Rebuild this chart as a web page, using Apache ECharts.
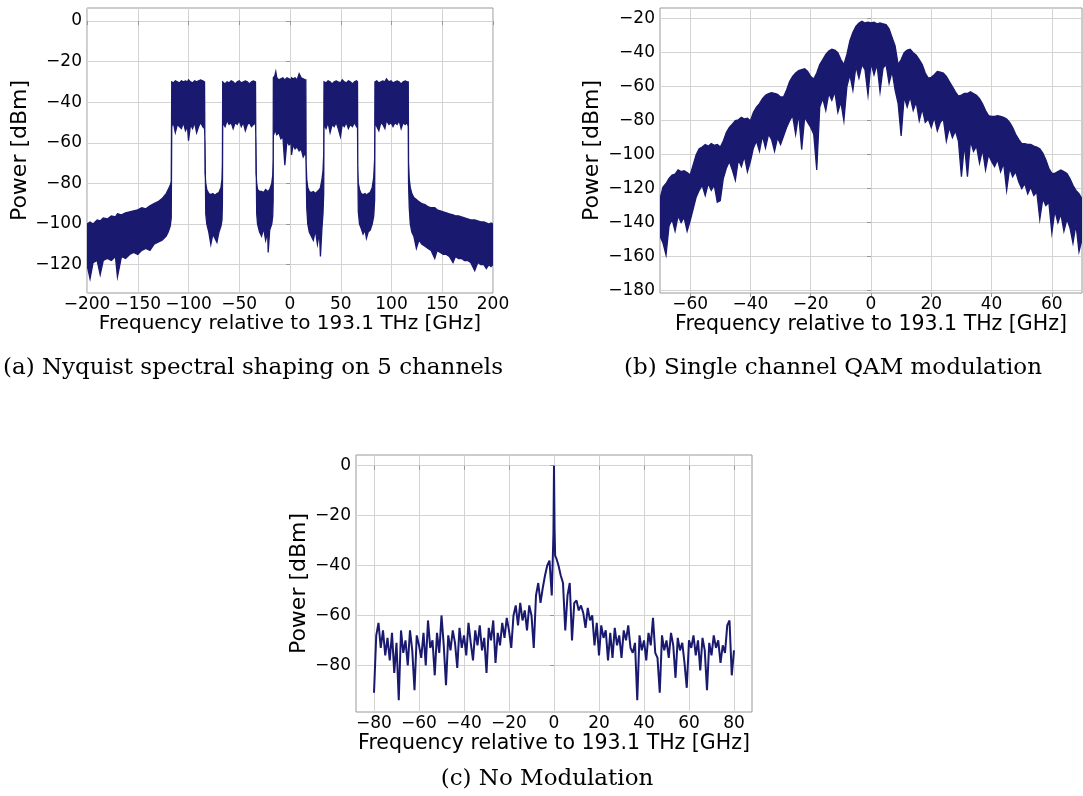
<!DOCTYPE html>
<html>
<head>
<meta charset="utf-8">
<title>Optical spectra</title>
<script src="https://cdn.jsdelivr.net/npm/echarts@6/dist/echarts.min.js"></script>
<style>
  html, body { margin: 0; padding: 0; background: #fff; }
  #chart { width: 1083px; height: 796px; }
</style>
</head>
<body>
<div id="chart"></div>
<script>
// (a) Nyquist shaped, 5 channels: noise band read as upper / lower envelope
const aFreq = [
  -200, -197, -194, -190, -187, -184, -180, -176, -172, -170, -166, -162, -158, -154, -150, -146, -142, -138, -134, -130, -126, -122, -120, -118, -117,
  -116.5, -115, -113, -111, -109, -107, -105, -103, -101, -100, -98, -96, -94, -92, -90, -88, -86, -84.2,
  -83.7, -83, -82, -80, -78, -76, -74, -72, -70, -68, -67, -66.6,
  -66.3, -64, -62, -60, -58, -56, -54, -52, -50, -48, -46, -44, -42, -40, -38, -36, -34,
  -33.5, -32.8, -32, -30, -28, -26, -24, -22, -21.5, -20, -18, -17, -16.6,
  -16.4, -15, -14, -13, -11, -9, -7, -5.1, -3, -1, 1, 1.5, 3, 5, 7, 9, 11, 13, 15, 15.6,
  15.9, 16.5, 17.5, 19, 21, 23, 25, 27, 29, 30, 31.5, 32.5, 33.2,
  33.5, 35.5, 37.5, 39.5, 41.5, 43.5, 45.5, 47.5, 49.7, 51.5, 53.5, 55.5, 57.5, 59.5, 61.5, 63.5, 65.5, 66.5,
  66.8, 67.3, 68.5, 70, 72, 74, 75.3, 77, 79, 81, 82.5, 83.4,
  83.7, 85.5, 87.5, 89.5, 91.5, 93.5, 95, 97.5, 99.5, 101.5, 103.5, 105.5, 107.5, 109.5, 111.5, 113.5, 115.5, 116.5,
  116.8, 117.5, 118.5, 120, 122, 124.5, 127, 130, 133, 136, 139, 142.6, 145, 148, 151, 154, 157, 160.6, 163, 166, 169, 172, 175, 178, 182, 185, 188, 191, 193.4, 196, 198, 200
];
const aUpper = [
  -100, -99, -100, -98, -98.5, -97, -97.5, -96, -96.5, -95, -95.5, -94.5, -94, -93.5, -93, -92, -92.5, -91, -90, -89, -87.5, -85, -83, -81, -79,
  -30, -30.5, -29.5, -30, -30.5, -29.5, -30, -29.5, -30, -29, -30, -30.5, -29.5, -30, -29.5, -29, -29.5, -30,
  -75, -80, -83, -85, -85.5, -85, -86, -85, -84.5, -82, -78, -70,
  -30, -31, -30, -30.5, -29.5, -30, -31, -30, -29.5, -30.5, -30, -29.5, -30, -31, -30, -29.5, -30,
  -75, -80, -83, -84, -84, -84.5, -83, -84, -84, -83, -80, -76, -68,
  -28, -27, -25, -28, -29, -28.5, -28, -29, -28, -28.5, -29, -28, -28.5, -28, -29, -26, -28, -28.5, -29, -29,
  -70, -78, -82, -84, -84.5, -84, -85, -84, -83, -82, -78, -74, -66,
  -30, -30.5, -29.5, -30, -31, -30, -29.5, -30, -30.5, -29, -30, -30.5, -29.5, -30, -31, -30, -29.5, -30,
  -72, -80, -83, -85, -85.5, -85, -86, -85, -84.5, -82, -77, -68,
  -30, -29.5, -30.5, -30, -29.5, -30, -28.5, -30, -29.5, -30.5, -30, -29.5, -30, -31, -30, -29.5, -30, -30,
  -70, -78, -82, -85, -87, -88, -89, -90, -90.5, -91.5, -92, -92, -93, -93.5, -94, -94.5, -95, -95.5, -96, -96, -96.5, -97, -97.5, -98, -98, -98.5, -99, -99, -99.5, -100, -99.5, -100
];
const aLower = [
  -120, -127, -119, -118, -125, -118, -117, -118, -116, -126, -116, -117, -115, -114, -115, -113, -112, -113, -110, -109, -108, -106, -104, -101, -97,
  -52, -50, -55, -51, -52, -53, -50, -54, -52, -59, -51, -53, -50, -55, -52, -50, -52, -53,
  -60, -95, -100, -104, -110, -105, -107, -109, -104, -101, -98, -90,
  -50, -52, -49, -51, -50, -53, -50, -51, -49, -52, -50, -54, -51, -50, -52, -51, -50,
  -60, -95, -100, -104, -106, -102, -108, -104, -114, -103, -100, -96, -88,
  -52, -55, -53, -56, -55, -58, -57, -71, -59, -61, -60, -66, -61, -63, -62, -64, -63, -67, -65, -66,
  -72, -92, -100, -104, -106, -108, -103, -110, -104, -116, -102, -95, -85,
  -51, -53, -50, -55, -51, -52, -50, -53, -57, -51, -52, -50, -53, -51, -52, -50, -52, -51,
  -72, -94, -100, -102, -105, -103, -107, -104, -103, -100, -96, -88,
  -50, -52, -54, -50, -51, -53, -49, -51, -50, -52, -50, -51, -49, -53, -50, -51, -50, -52,
  -80, -92, -100, -104, -106, -112, -108, -110, -111, -112, -113, -117, -113, -114, -115, -115, -116, -119, -116, -117, -117, -118, -118, -119, -123, -119, -120, -120, -122, -120, -121, -120
];

// (b) single channel QAM: upper and lower envelopes read at 1 GHz steps
const bFreq = [
  -70, -69, -68, -67, -66, -65, -64, -63, -62, -61, -60, -59, -58, -57, -56, -55, -54, -53, -52, -51,
  -50, -49, -48, -47, -46, -45, -44, -43, -42, -41, -40, -39, -38, -37, -36, -35, -34, -33, -32, -31,
  -30, -29, -28, -27, -26, -25, -24, -23, -22, -21, -20, -19, -18, -17, -16, -15, -14, -13, -12, -11,
  -10, -9, -8, -7, -6, -5, -4, -3, -2, -1, 0, 1, 2, 3, 4, 5, 6, 7, 8, 9,
  10, 11, 12, 13, 14, 15, 16, 17, 18, 19, 20, 21, 22, 23, 24, 25, 26, 27, 28, 29,
  30, 31, 32, 33, 34, 35, 36, 37, 38, 39, 40, 41, 42, 43, 44, 45, 46, 47, 48, 49,
  50, 51, 52, 53, 54, 55, 56, 57, 58, 59, 60, 61, 62, 63, 64, 65, 66, 67, 68, 69, 70
];
const bUpper = [
  -126, -119, -117, -114, -112, -111.5, -109, -110, -109.5, -110.5, -112, -106, -100, -96.5, -95.5, -94, -95, -93.5, -94.5, -94,
  -95.5, -92, -87, -84, -82, -80, -79.5, -78, -79, -78.5, -80, -75, -72, -70, -67, -65, -64, -63.5, -64, -64.5,
  -66, -66, -62, -57, -54, -52, -50.5, -50, -49.5, -51, -54, -55.5, -52, -47, -44, -41, -39, -38, -38.5, -40,
  -44, -47, -41, -33, -28, -24.5, -22.5, -21.5, -22.5, -22, -22.5, -22, -23, -22.5, -23, -23.5, -26, -31, -36, -47,
  -44, -40, -38.5, -38, -40, -41.5, -44, -47, -52, -55, -54.5, -53, -51, -51.5, -52, -54, -57, -60, -63, -65.5,
  -65, -64, -64, -63, -64, -65, -67, -70, -74, -77, -77.5, -77.5, -77, -77.5, -78, -79, -81, -84, -88, -91,
  -93.5, -93.5, -94, -94, -95, -95.5, -96.5, -99, -103, -108, -111, -111, -110, -109, -110, -111, -114, -118, -121, -123, -126
];
const bLower = [
  -148, -152, -159, -142, -138, -145, -136, -140, -137, -145, -139, -132, -125, -121, -118, -124, -117, -121, -118, -128,
  -127, -114, -108, -104, -109, -115, -103, -107, -101, -110, -104, -96, -92, -98, -89, -96, -88, -91, -98, -90,
  -94, -89, -84, -80, -77, -88, -76, -97, -78, -81, -84, -88, -109, -72, -67, -74, -64, -68, -63, -75,
  -69, -80, -60, -53, -62, -48, -55, -47, -50, -65, -46, -53, -47, -63, -49, -47, -58, -51, -62, -70,
  -89, -66, -72, -66, -74, -69, -80, -73, -81, -79, -84, -78, -86, -81, -79, -92, -84, -90, -86, -92,
  -113, -94, -113, -92, -98, -95, -105, -97, -109, -100, -104, -107, -103, -110, -105, -121, -108, -113, -110, -116,
  -120, -117, -123, -119, -124, -122, -138, -126, -130, -128, -146, -133, -140, -135, -145, -138, -143, -152, -141, -157, -150
];

// (c) no modulation: single noisy line
const cFreq = [
  -80, -79, -78, -77, -76, -75, -74, -73, -72, -71, -70, -69, -68, -67, -66, -65, -64, -63, -62, -61,
  -60, -59, -58, -57, -56, -55, -54, -53, -52, -51, -50, -49, -48, -47, -46, -45, -44, -43, -42, -41,
  -40, -39, -38, -37, -36, -35, -34, -33, -32, -31, -30, -29, -28, -27, -26, -25, -24, -23, -22, -21,
  -20, -19, -18, -17, -16, -15, -14, -13, -12, -11, -10, -9, -8, -7, -6, -5, -4, -3, -2, -1,
  -0.5, -0.25, 0, 0.25, 0.5,
  1, 2, 3, 4, 5, 6, 7, 8, 9, 10, 11, 12, 13, 14, 15, 16, 17, 18, 19, 20,
  21, 22, 23, 24, 25, 26, 27, 28, 29, 30, 31, 32, 33, 34, 35, 36, 37, 38, 39, 40,
  41, 42, 43, 44, 45, 46, 47, 48, 49, 50, 51, 52, 53, 54, 55, 56, 57, 58, 59, 60,
  61, 62, 63, 64, 65, 66, 67, 68, 69, 70, 71, 72, 73, 74, 75, 76, 77, 78, 79, 80
];
const cPower = [
  -91, -68, -63, -73, -66, -76, -69, -78, -67, -83, -71, -94, -66, -75, -70, -80, -66, -74, -90, -68,
  -72, -77, -67, -80, -62, -73, -70, -84, -67, -75, -60, -72, -88, -68, -74, -66, -71, -81, -65, -73,
  -68, -76, -63, -71, -78, -66, -72, -64, -74, -69, -83, -65, -70, -62, -79, -67, -72, -63, -69, -61,
  -66, -73, -60, -56, -64, -55, -62, -58, -66, -56, -60, -73, -52, -47, -55, -49, -44, -40, -38, -52,
  -36, -27, 0, -25, -36,
  -37, -40, -44, -47, -66, -52, -47, -70, -55, -54, -58, -56, -59, -65, -57, -62, -60, -72, -63, -76,
  -64, -69, -66, -78, -67, -77, -65, -72, -68, -77, -66, -70, -64, -73, -75, -71, -94, -68, -74, -70,
  -78, -67, -72, -61, -75, -77, -91, -68, -74, -70, -77, -67, -72, -85, -69, -74, -71, -79, -89, -70,
  -73, -68, -76, -70, -82, -69, -74, -90, -71, -76, -68, -73, -70, -79, -72, -75, -64, -62, -84, -74
];

const yTicksA = [-120, -100, -80, -60, -40, -20, 0];
const xTicksB = [-60, -40, -20, 0, 20, 40, 60];
const yTicksB = [-180, -160, -140, -120, -100, -80, -60, -40, -20];
const xTicksC = [-80, -60, -40, -20, 0, 20, 40, 60, 80];
const yTicksC = [-80, -60, -40, -20, 0];

const NAVY = '#191970';
const SANS = 'DejaVu Sans';
const fmt = v => String(v).replace('-', '\u2212');

const chart = echarts.init(document.getElementById('chart'), null, { renderer: 'canvas' });

function axis(gridIndex, min, max, ticks, pos, name, nameSize, nameGap) {
  const a = {
    type: 'value', gridIndex, min, max, position: pos,
    name, nameLocation: 'middle', nameGap,
    nameTextStyle: { fontFamily: SANS, fontSize: nameSize, color: '#000' },
    axisLine: { show: false },
    axisTick: { show: true, length: 4, lineStyle: { color: '#999' } },
    axisLabel: { fontFamily: SANS, fontSize: 17, color: '#000', margin: pos === 'left' ? 5 : 3,
                 formatter: fmt, showMinLabel: true, showMaxLabel: true },
    splitLine: { show: true, lineStyle: { color: '#d3d3d3', width: 1 } }
  };
  if (ticks) {
    a.axisTick.customValues = ticks;
    a.axisLabel.customValues = ticks;
  } else {
    a.interval = 50;
  }
  return a;
}

// filled band between the upper and lower envelope, mapped through the axes
function band(freq, upper, lower) {
  return function (params, api) {
    if (params.dataIndex !== 0) return null;
    const pts = [];
    for (let i = 0; i < freq.length; i++) pts.push(api.coord([freq[i], upper[i]]));
    for (let i = freq.length - 1; i >= 0; i--) pts.push(api.coord([freq[i], lower[i]]));
    return {
      type: 'polygon',
      shape: { points: pts },
      style: { fill: NAVY, stroke: NAVY, lineWidth: 1.3 }
    };
  };
}

const grid = { show: true, borderColor: '#999', borderWidth: 1, backgroundColor: '#fff', containLabel: false };
const caption = (text, x, y) => ({
  type: 'text', x, y,
  style: { text, font: '23px "DejaVu Serif"', fill: '#000', textAlign: 'center', textVerticalAlign: 'middle' }
});

chart.setOption({
  animation: false,
  grid: [
    Object.assign({ left: 87, top: 8, width: 406, height: 285 }, grid),
    Object.assign({ left: 660, top: 8, width: 422, height: 285 }, grid),
    Object.assign({ left: 356, top: 455, width: 396, height: 257 }, grid)
  ],
  xAxis: [
    axis(0, -200, 200, null, 'bottom', 'Frequency relative to 193.1 THz [GHz]', 20, 18),
    axis(1, -70, 70, xTicksB, 'bottom', 'Frequency relative to 193.1 THz [GHz]', 20.5, 20),
    axis(2, -88, 88, xTicksC, 'bottom', 'Frequency relative to 193.1 THz [GHz]', 20.5, 20)
  ],
  yAxis: [
    axis(0, -134, 6.4, yTicksA, 'left', 'Power [dBm]', 22, 56),
    axis(1, -181.4, -13.7, yTicksB, 'left', 'Power [dBm]', 22, 57),
    axis(2, -98.7, 4.3, yTicksC, 'left', 'Power [dBm]', 22, 46)
  ],
  series: [
    {
      type: 'custom', xAxisIndex: 0, yAxisIndex: 0, clip: true,
      data: aFreq.map((f, i) => [f, aUpper[i], aLower[i]]),
      encode: { x: 0, y: [1, 2] },
      renderItem: band(aFreq, aUpper, aLower)
    },
    {
      type: 'custom', xAxisIndex: 1, yAxisIndex: 1, clip: true,
      data: bFreq.map((f, i) => [f, bUpper[i], bLower[i]]),
      encode: { x: 0, y: [1, 2] },
      renderItem: band(bFreq, bUpper, bLower)
    },
    {
      type: 'line', xAxisIndex: 2, yAxisIndex: 2,
      data: cFreq.map((f, i) => [f, cPower[i]]),
      symbol: 'none',
      lineStyle: { color: NAVY, width: 2 }
    }
  ],
  graphic: [
    caption('(a) Nyquist spectral shaping on 5 channels', 253, 368),
    caption('(b) Single channel QAM modulation', 833, 368),
    caption('(c) No Modulation', 547, 779)
  ]
});
</script>
</body>
</html>
